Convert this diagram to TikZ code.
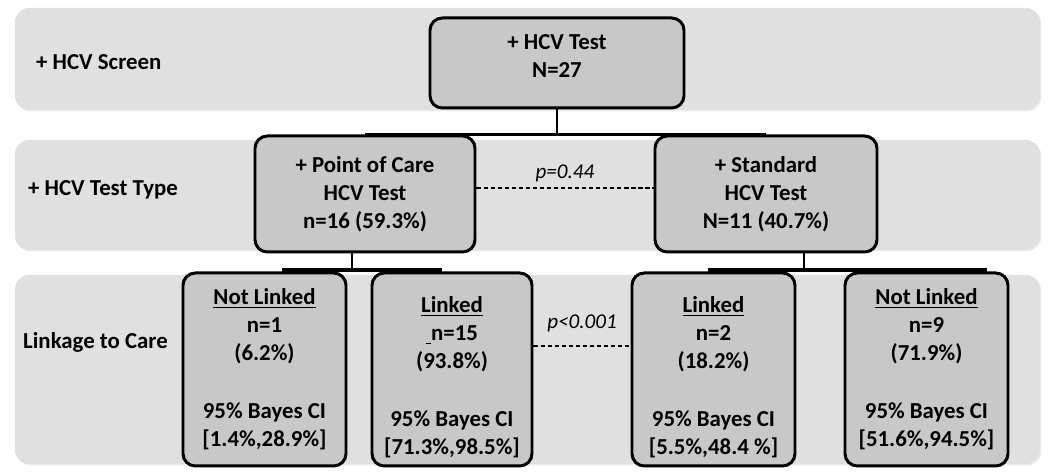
\documentclass[tikz,border=0pt]{standalone}
\usepackage{fontspec}
\setmainfont{Carlito}
\usepackage{xcolor}
\usepackage{tikz}
\usetikzlibrary{positioning,calc,shadows}
\definecolor{bandgray}{HTML}{E0E0E0}
\definecolor{boxgray}{HTML}{C8C8C8}

\begin{document}
\begin{tikzpicture}[
    band/.style={fill=bandgray, rounded corners=8pt,
      drop shadow={opacity=0.15, shadow xshift=0.8pt, shadow yshift=-0.8pt}},
    rowlabel/.style={anchor=west, font=\fontsize{13}{16}\selectfont\bfseries},
    box/.style={draw=black, fill=boxgray, line width=1.7pt, rounded corners=7pt,
      align=center, inner sep=0pt, font=\fontsize{13}{16}\selectfont\bfseries},
    tree/.style={draw=black, line width=1.3pt},
    bar/.style={draw=black, line width=2.4pt},
    pline/.style={draw=black, dash pattern=on 2.5pt off 1.5pt, line width=0.6pt},
    ptext/.style={font=\fontsize{12}{14}\selectfont\itshape}
  ]
  \useasboundingbox (0,0) rectangle (21,9.48);

  % background bands
  \fill[band] (0.30,7.28) rectangle (20.80,9.32);
  \fill[band] (0.30,4.48) rectangle (20.80,6.68);
  \fill[band] (0.30,0.20) rectangle (20.80,3.98);

  \node[rowlabel] (rowScreen) at (0.60,8.24) {+ HCV Screen};
  \node[rowlabel] (rowType) at (0.44,5.68) {+ HCV Test Type};
  \node[rowlabel] (rowLink) at (0.34,2.64) {Linkage to Care};

  % tree
  \node[box, minimum width=5.08cm, minimum height=1.8cm] (top) at (11.14,8.22)
    {+ HCV Test\\N=27\rule[-8pt]{0pt}{8pt}};
  \node[box, minimum width=4.4cm, minimum height=2.32cm] (poc) at (7.30,5.60)
    {+ Point of Care\\HCV Test\\n=16 (59.3\%)};
  \node[box, minimum width=4.44cm, minimum height=2.32cm] (std) at (15.32,5.60)
    {+ Standard\\HCV Test\\N=11 (40.7\%)};

  \node[box, minimum width=3.26cm, minimum height=3.86cm] (nlA) at (5.29,2.09)
    {\underline{Not Linked}\\n=1\\(6.2\%)\\[17pt]95\% Bayes CI\\{[}1.4\%,28.9\%{]}};
  \node[box, minimum width=3.2cm, minimum height=3.86cm] (lA) at (9.04,2.09)
    {\rule{0pt}{18pt}\underline{Linked}\\\underline{\ }n=15\\(93.8\%)\\[17pt]95\% Bayes CI\\{[}71.3\%,98.5\%{]}};
  \node[box, minimum width=3.26cm, minimum height=3.86cm] (lB) at (14.27,2.09)
    {\rule{0pt}{18pt}\underline{Linked}\\n=2\\(18.2\%)\\[17pt]95\% Bayes CI\\{[}5.5\%,48.4 \%{]}};
  \node[box, minimum width=3.26cm, minimum height=3.86cm] (nlB) at (18.53,2.09)
    {\underline{Not Linked}\\n=9\\(71.9\%)\\[17pt]95\% Bayes CI\\{[}51.6\%,94.5\%{]}};

  % connectors
  \coordinate (pocJ) at (7.04,4.08);
  \coordinate (stdJ) at (16.08,4.08);
  \draw[tree] (top.south) |- (poc.north);
  \draw[tree] (top.south) |- (std.north);
  \draw[tree] (pocJ |- poc.south) -- (pocJ);
  \draw[tree] (stdJ |- std.south) -- (stdJ);
  \draw[bar] ($(nlA.north |- pocJ)+(0.35,0)$) -- ($(lA.north |- pocJ)+(-0.2,0)$);
  \draw[bar] ($(lB.north |- stdJ)+(-0.11,0)$) -- ($(nlB.north |- stdJ)+(1.21,0)$);

  % p-values
  \draw[pline] ([yshift=1.2mm]poc.east) -- node[ptext, above] (pType) {p=0.44}
    ([yshift=1.2mm]std.west);
  \draw[pline] ([yshift=4.7mm]lA.east) -- node[ptext, above=1.5mm] (pLink) {p<0.001}
    ([yshift=4.7mm]lB.west);
\end{tikzpicture}
\end{document}
